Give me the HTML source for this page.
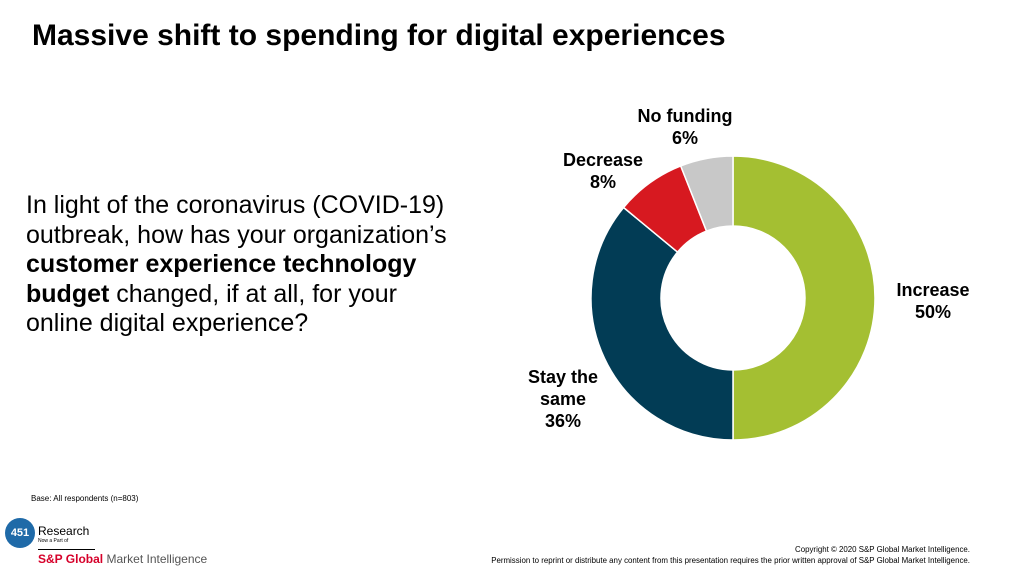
<!DOCTYPE html>
<html><head><meta charset="utf-8"><style>
body{margin:0;width:1024px;height:572px;background:#fff;font-family:"Liberation Sans",Arial,sans-serif;position:relative;overflow:hidden;color:#000}
.abs{position:absolute}
.lbl{position:absolute;font-weight:bold;font-size:18px;text-align:center;line-height:22px}
</style></head><body>
<div class="abs" style="left:32px;top:19px;font-size:30px;font-weight:bold">Massive shift to spending for digital experiences</div>
<div class="abs" style="left:26px;top:191px;font-size:25px;line-height:29.5px;width:425px">In light of the coronavirus (COVID-19) outbreak, how has your organization’s <b>customer experience technology budget</b> changed, if at all, for your online digital experience?</div>
<svg class="abs" style="left:0;top:0" width="1024" height="572" id="chart"></svg>
<div class="lbl" style="left:630px;top:105px;width:110px">No funding<br>6%</div>
<div class="lbl" style="left:548px;top:149px;width:110px">Decrease<br>8%</div>
<div class="lbl" style="left:878px;top:279px;width:110px">Increase<br>50%</div>
<div class="lbl" style="left:508px;top:366px;width:110px">Stay the<br>same<br>36%</div>
<div class="abs" style="left:31px;top:494px;font-size:8px">Base: All respondents (n=803)</div>
<div class="abs" style="left:5px;top:518px;width:30px;height:30px;border-radius:50%;background:#1f6aa8;color:#fff;font-size:11px;font-weight:bold;line-height:30px;text-align:center">451</div>
<div class="abs" style="left:38px;top:524px;font-size:12px">Research</div>
<div class="abs" style="left:38px;top:538px;font-size:5px">Now a Part of</div>
<div class="abs" style="left:38px;top:549px;width:57px;height:1px;background:#000"></div>
<div class="abs" style="left:38px;top:552px;font-size:12px;color:#555"><span style="color:#d6002a;font-weight:bold">S&amp;P Global</span> Market Intelligence</div>
<div class="abs" style="right:54px;top:544px;font-size:7.9px;text-align:right;line-height:11px">Copyright © 2020 S&amp;P Global Market Intelligence.<br>Permission to reprint or distribute any content from this presentation requires the prior written approval of S&amp;P Global Market Intelligence.</div>
<script>
const categories=["Increase","Stay the same","Decrease","No funding"];
const values=[50,36,8,6];
const colors=["#a4bf32","#023c55","#d71920","#c8c8c8"];
const cx=733,cy=298,R=142,r=72;
const svg=document.getElementById('chart');
const total=values.reduce((a,b)=>a+b,0);
let a0=-Math.PI/2;
function pt(rad,a){return [cx+rad*Math.cos(a),cy+rad*Math.sin(a)];}
values.forEach((v,i)=>{
  const a1=a0+v/total*2*Math.PI;
  const large=(a1-a0)>Math.PI?1:0;
  const [x0,y0]=pt(R,a0),[x1,y1]=pt(R,a1),[x2,y2]=pt(r,a1),[x3,y3]=pt(r,a0);
  const p=document.createElementNS("http://www.w3.org/2000/svg","path");
  p.setAttribute("d",`M${x0},${y0}A${R},${R} 0 ${large} 1 ${x1},${y1}L${x2},${y2}A${r},${r} 0 ${large} 0 ${x3},${y3}Z`);
  p.setAttribute("fill",colors[i]);p.setAttribute("stroke","#fff");p.setAttribute("stroke-width","1.5");
  
  
  svg.appendChild(p);
  a0=a1;
});
</script>
</body></html>
